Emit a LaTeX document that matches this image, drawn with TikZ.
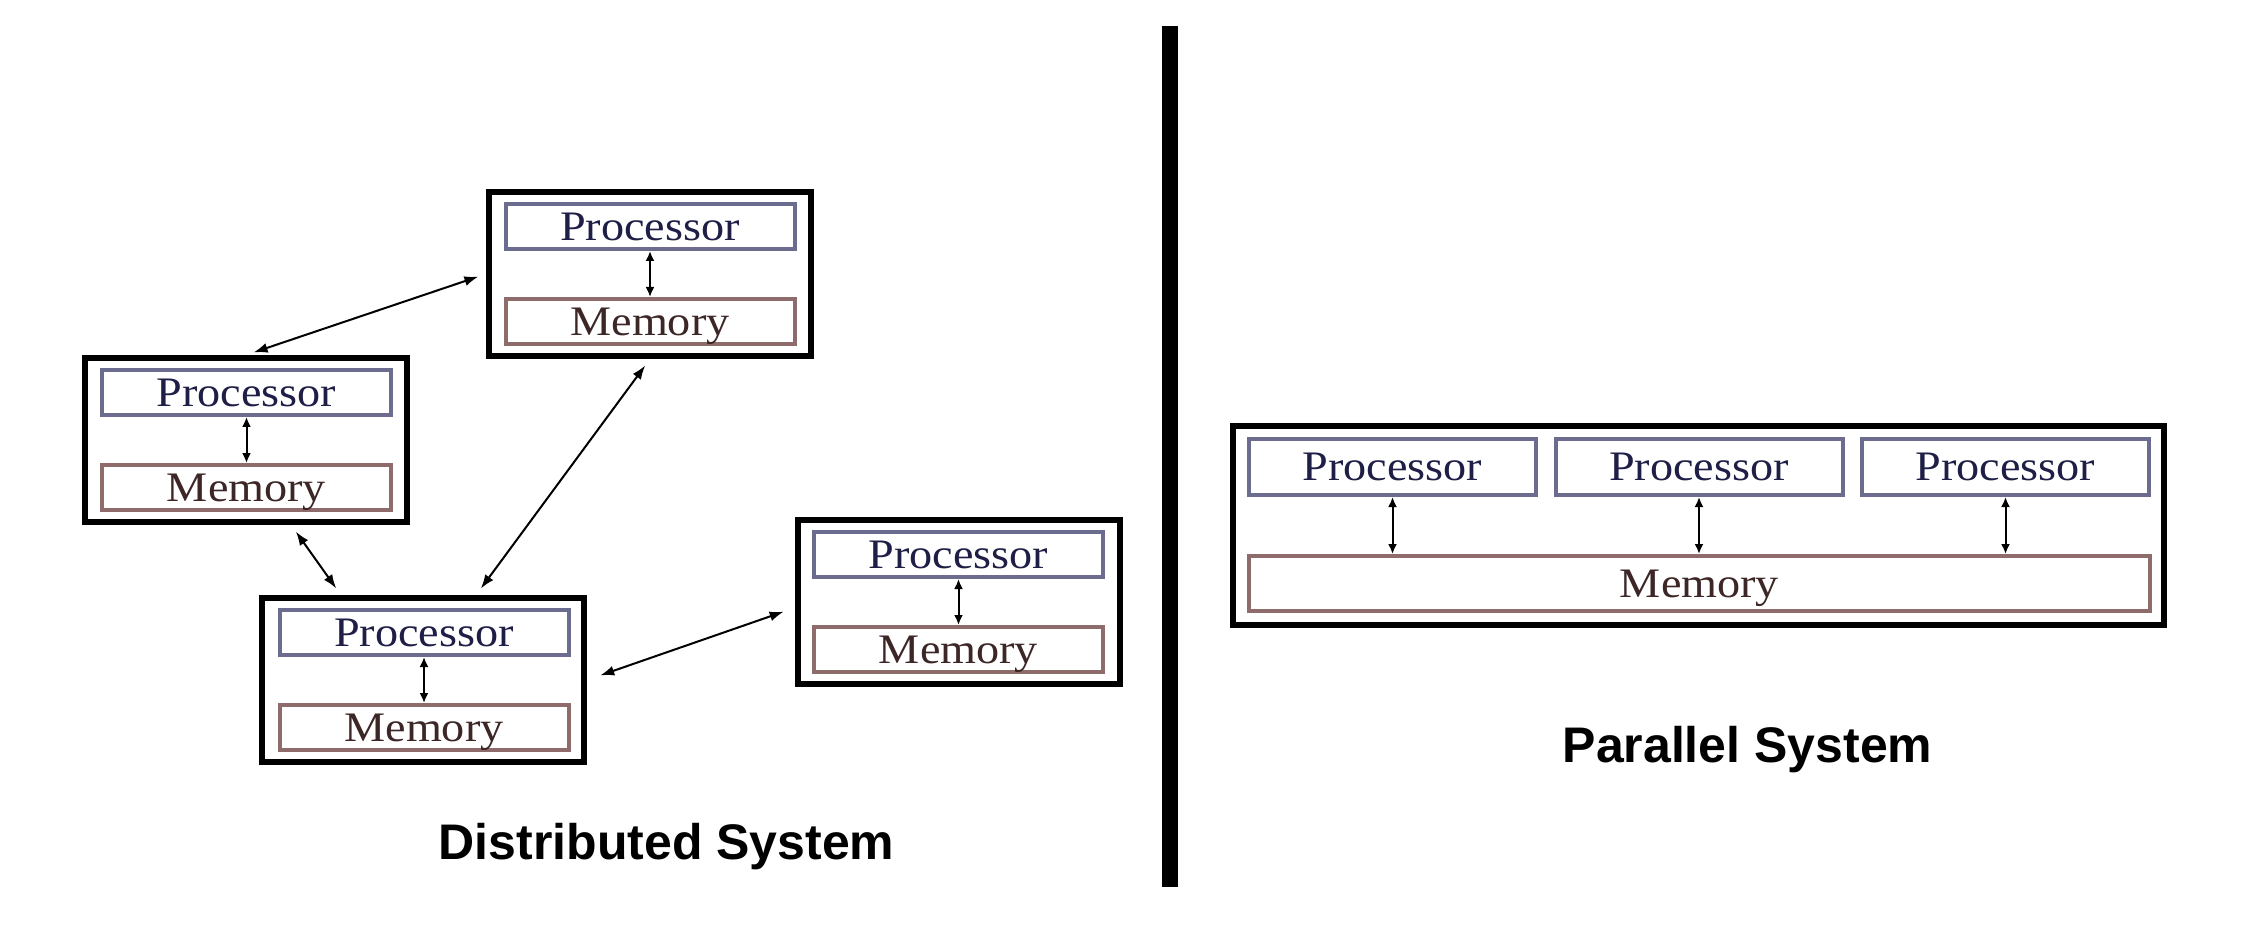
\documentclass[tikz,border=0pt]{standalone}
\usepackage{fontspec}
\newfontfamily\boxfont{Liberation Serif}[FakeStretch=1.1]
\newfontfamily\titlefont{Liberation Sans}
\usetikzlibrary{arrows.meta}
\definecolor{procline}{HTML}{6C6C8E}
\definecolor{memline}{HTML}{8E6C6C}
\definecolor{proctext}{HTML}{1E1E46}
\definecolor{memtext}{HTML}{3C2626}
\tikzset{
  unitbox/.style={draw=black, line width=3pt, minimum width=161pt, minimum height=82pt, inner sep=0pt},
  procbox/.style={draw=procline, line width=2pt, fill=white, minimum width=144.5pt, minimum height=22.5pt,
    inner sep=0pt, text=proctext, font=\boxfont\fontsize{21}{24}\selectfont, text height=13.9pt, text depth=0pt},
  membox/.style={procbox, draw=memline, text=memtext},
  pprocbox/.style={procbox, minimum width=143.5pt, minimum height=28pt},
  pmembox/.style={membox, minimum width=450.5pt, minimum height=27.5pt},
  link/.style={arrows={Latex[length=7pt,width=5pt]-Latex[length=7pt,width=5pt]}, line width=1pt, shorten <=4pt, shorten >=4pt},
  bus/.style={arrows={Latex[length=5pt,width=4.5pt]-Latex[length=5pt,width=4.5pt]}, line width=1pt},
  title/.style={anchor=base, font=\titlefont\bfseries\fontsize{25}{30}\selectfont, text=black},
}
\begin{document}
\begin{tikzpicture}[x=0.5pt,y=-0.5pt]
\useasboundingbox (0,0) rectangle (2248,930);
\fill[white] (0,0) rectangle (2248,930);

% divider
\fill[black] (1162,26) rectangle (1178,887);

% ---- Distributed system ----
\node[unitbox] (u1) at (650,274) {};
\node[procbox] (p1) at (650,226.5) {Processor};
\node[membox]  (m1) at (650,321.5) {Memory};

\node[unitbox] (u2) at (246,440) {};
\node[procbox] (p2) at (246.5,392.5) {Processor};
\node[membox]  (m2) at (246.5,487.5) {Memory};

\node[unitbox] (u4) at (423,680) {};
\node[procbox] (p4) at (424,632.5) {Processor};
\node[membox]  (m4) at (424,727.5) {Memory};

\node[unitbox] (u3) at (959,602) {};
\node[procbox] (p3) at (958.5,554.5) {Processor};
\node[membox]  (m3) at (958.5,649.5) {Memory};

\foreach \i in {1,2,3,4}{
  \draw[bus] (p\i.south) -- (m\i.north);
}

\draw[link] (u2.north) -- (u1.west);
\draw[link] (u4.58) -- (u1.south);
\draw[link] (u2.-62.6) -- (u4.134.3);
\draw[link, shorten <=7pt, shorten >=6pt] (u4.east) -- (u3.182);

\node[title] (dtitle) at (666.5,859) {Distributed System};

% ---- Parallel system ----
\node[draw=black, line width=3pt, minimum width=465.5pt, minimum height=99.5pt, inner sep=0pt] (pu) at (1698.5,525.5) {};
\node[pprocbox] (q1) at (1392.5,467) {Processor};
\node[pprocbox] (q2) at (1699,467) {Processor};
\node[pprocbox] (q3) at (2005.5,467) {Processor};
\node[pmembox]  (pm) at (1699.5,583.5) {Memory};
\foreach \i in {1,2,3}{
  \draw[bus] (q\i.south) -- (q\i.south |- pm.north);
}

\node[title] (ptitle) at (1747.5,762) {Parallel System};
\end{tikzpicture}
\end{document}
